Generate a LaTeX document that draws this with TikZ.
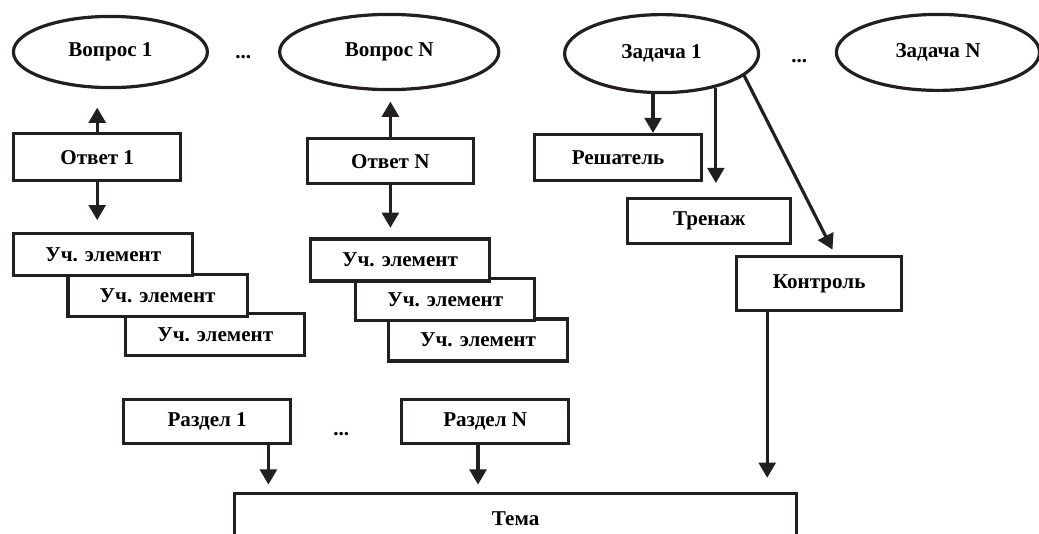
\documentclass[tikz,border=0pt]{standalone}
\usepackage{fontspec}
\setmainfont{Liberation Serif}
\usetikzlibrary{arrows.meta,shapes.geometric}
\definecolor{ink}{HTML}{231F20}

\begin{document}
\begin{tikzpicture}[
  font=\bfseries\fontsize{15}{18}\selectfont,
  oval/.style={ellipse, draw=ink, line width=.08cm, inner sep=0pt},
  box/.style={draw=ink, line width=.08cm, fill=white, inner sep=0pt,
    minimum width=4.18cm, minimum height=1.15cm},
  elbox/.style={box, minimum width=4.48cm, minimum height=1.05cm},
  flow/.style={-{Triangle[length=3.8mm,width=4.2mm]}, draw=ink, line width=.08cm}
]
  \useasboundingbox (0,0) rectangle (25.975,-13.325);

  % top row
  \node[oval, minimum width=4.85cm, minimum height=1.78cm] (vop1) at (2.76,-1.30) {Вопрос 1};
  \node[anchor=base] (dots1) at (6.08,-1.45) {...};
  \node[oval, minimum width=5.48cm, minimum height=1.88cm] (vopN) at (9.73,-1.30) {Вопрос N};
  \node[oval, minimum width=4.85cm, minimum height=1.95cm] (zad1) at (16.54,-1.34) {Задача 1};
  \node[anchor=base] (dots2) at (19.98,-1.55) {...};
  \node[oval, minimum width=5.08cm, minimum height=1.90cm] (zadN) at (23.45,-1.31) {Задача N};

  % answers
  \node[box, minimum height=1.18cm] (otv1) at (2.43,-3.93) {Ответ 1};
  \node[box, minimum width=4.15cm, minimum height=1.13cm] (otvN) at (9.76,-4.03) {Ответ N};
  \draw[flow, shorten >=4.6mm] (otv1.north) -- (otv1.north |- vop1.south);
  \draw[flow, shorten >=2.6mm] (otvN.north) -- (otvN.north |- vopN.south);

  % stacked elements, back to front
  \node[elbox] (uch1c) at (5.38,-8.36) {Уч. элемент};
  \node[elbox] (uch1b) at (3.94,-7.39) {Уч. элемент};
  \node[elbox] (uch1a) at (2.58,-6.36) {Уч. элемент};
  \node[elbox] (uchNc) at (11.95,-8.50) {Уч. элемент};
  \node[elbox] (uchNb) at (11.13,-7.49) {Уч. элемент};
  \node[elbox] (uchNa) at (10.00,-6.50) {Уч. элемент};
  \draw[flow, shorten >=2.9mm] (otv1.south) -- (otv1.south |- uch1a.north);
  \draw[flow, shorten >=2.4mm] (otvN.south) -- (otvN.south |- uchNa.north);

  % task branch
  \node[box] (resh) at (15.45,-3.94) {Решатель};
  \node[box, minimum width=4.08cm, minimum height=1.13cm] (tren) at (17.73,-5.53) {Тренаж};
  \node[box, minimum width=4.13cm, minimum height=1.35cm] (kontr) at (20.48,-7.09) {Контроль};
  \draw[flow] (zad1.-102) -- (zad1.-102 |- resh.north);
  \draw[flow, shorten >=3.5mm] (zad1.-32) -- (zad1.-32 |- tren.north);
  \draw[flow, shorten >=1.5mm] (zad1.-15) -- ([xshift=4mm]kontr.north);

  % sections and topic
  \node[box, minimum height=1.10cm] (razd1) at (5.18,-10.54) {Раздел 1};
  \node[anchor=base] (dots3) at (8.53,-10.88) {...};
  \node[box, minimum height=1.10cm] (razdN) at (12.13,-10.54) {Раздел N};
  \node[box, minimum width=14.05cm, minimum height=1.25cm] (tema) at (12.89,-12.96) {Тема};
  \draw[flow, shorten >=1.8mm] ([xshift=15.3mm]razd1.south) -- ([xshift=15.3mm]razd1.south |- tema.north);
  \draw[flow, shorten >=1.8mm] ([xshift=-1.8mm]razdN.south) -- ([xshift=-1.8mm]razdN.south |- tema.north);
  \draw[flow, shorten >=3.5mm] ([xshift=-13mm]kontr.south) -- ([xshift=-13mm]kontr.south |- tema.north);
\end{tikzpicture}
\end{document}
